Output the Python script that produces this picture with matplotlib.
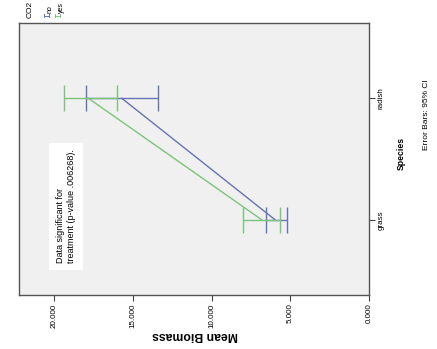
#!/usr/bin/env python3
# SPSS style line chart of mean biomass, drawn turned by 90 degrees like the scan
import numpy as np
import matplotlib.pyplot as plt
from matplotlib.lines import Line2D

species = ["grass", "radish"]
co2_groups = ["no", "yes"]
# mean biomass and 95% CI per CO2 group (grass, radish)
means = {"no": [5.97, 15.71], "yes": [6.82, 17.83]}
ci_low = {"no": [5.23, 13.39], "yes": [5.65, 16.03]}
ci_high = {"no": [6.54, 17.98], "yes": [7.99, 19.38]}
value_ticks = [0, 5, 10, 15, 20]
value_labels = ["0.000", "5.000", "10.000", "15.000", "20.000"]

colors = {"no": "#6474b4", "yes": "#7cc47c"}

plt.rcParams["font.family"] = ["Liberation Sans", "DejaVu Sans"]

fig = plt.figure(figsize=(4.37, 3.49), dpi=100)
ax = fig.add_axes([19 / 437, 1 - 295 / 349, 350 / 437, 272 / 349])
ax.set_facecolor("#f0f0f0")

ypos = np.arange(len(species))
for g in co2_groups:
    m = np.array(means[g])
    lo = m - np.array(ci_low[g])
    hi = np.array(ci_high[g]) - m
    ax.plot(m, ypos, color=colors[g], lw=1)
    ax.errorbar(m, ypos, xerr=[lo, hi], fmt="none", ecolor=colors[g],
                elinewidth=1, capsize=9.2, capthick=1)

ax.set_xlim(22.24, 0)
ax.set_ylim(-0.62, 1.62)

ax.set_xticks(value_ticks)
ax.set_xticklabels(value_labels, rotation=90, fontsize=5.8)
ax.yaxis.tick_right()
ax.set_yticks(ypos)
ax.set_yticklabels(species, rotation=90, fontsize=5.8, va="center")
ax.tick_params(axis="both", length=4, width=0.8, color="#444444", pad=2)
for s in ax.spines.values():
    s.set_color("#555555")
    s.set_linewidth(1)

# axis titles
fig.text(195 / 437, 1 - 335 / 349, "Mean Biomass", rotation=180, fontsize=8.8,
         fontweight="bold", ha="center", va="center")
fig.text(401 / 437, 1 - 153 / 349, "Species", rotation=90, fontsize=6.2,
         fontweight="bold", ha="center", va="center")
fig.text(427 / 437, 1 - 115 / 349, "Error Bars: 95% CI", rotation=90, fontsize=6,
         ha="center", va="center")

# note box
ax.text(19.9, -0.36, "Data significant for\ntreatment (p-value .006268).",
        rotation=90, fontsize=6.5, ha="left", va="bottom", linespacing=1.3,
        bbox=dict(facecolor="white", edgecolor="none", pad=5))

# legend in the corner
fig.text(30 / 437, 1 - 9 / 349, "CO2", rotation=90, fontsize=6, ha="center", va="center")
for i, g in enumerate(co2_groups):
    xc = 46 + 11 * i
    yc = 1 - 15.5 / 349
    fig.add_artist(Line2D([(xc - 2.5) / 437, (xc + 2.5) / 437], [yc, yc],
                          color=colors[g], lw=0.7, transform=fig.transFigure))
    for dx in (-2.5, 2.5):
        fig.add_artist(Line2D([(xc + dx) / 437] * 2, [yc - 1.5 / 349, yc + 1.5 / 349],
                              color=colors[g], lw=0.7, transform=fig.transFigure))
    fig.text((xc + 4) / 437, 1 - 13 / 349, g, rotation=90, fontsize=5,
             ha="center", va="bottom")

fig.savefig("out.png", dpi=100)
